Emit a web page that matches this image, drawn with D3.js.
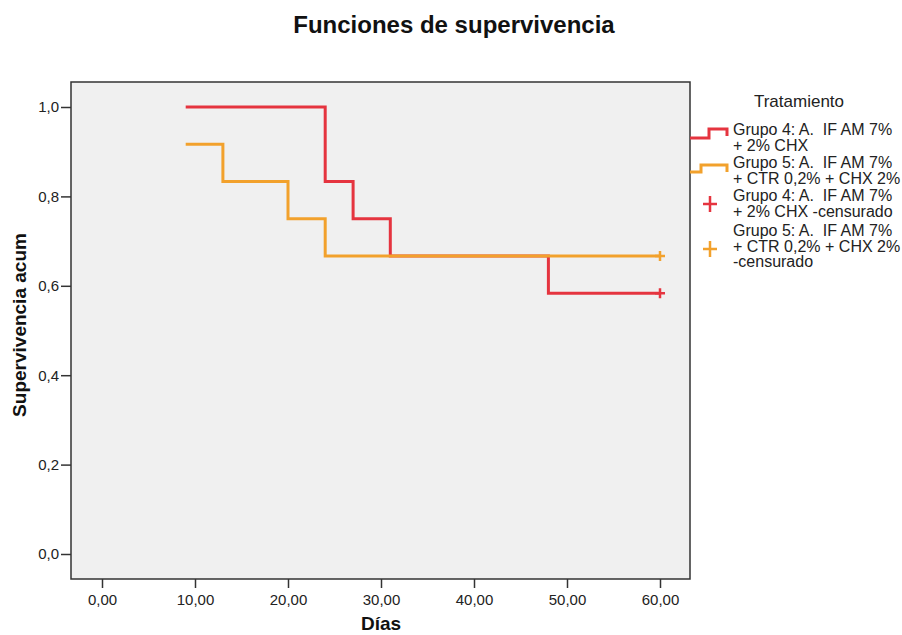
<!DOCTYPE html>
<html>
<head>
<meta charset="utf-8">
<script src="https://cdn.jsdelivr.net/npm/d3@7"></script>
<style>
  html, body { margin: 0; padding: 0; background: #ffffff; }
  svg { display: block; font-family: "Liberation Sans", Arial, sans-serif; }
</style>
</head>
<body>
<svg id="chart" width="902" height="635"></svg>
<script>
// ---- data ----
const title = "Funciones de supervivencia";
const xTitle = "Días";
const yTitle = "Supervivencia acum";
const legendTitle = "Tratamiento";

const groupNames = [
  ["Grupo 4: A.  IF AM 7%", "+ 2% CHX"],
  ["Grupo 5: A.  IF AM 7%", "+ CTR 0,2% + CHX 2%"]
];
const censorNames = [
  ["Grupo 4: A.  IF AM 7%", "+ 2% CHX -censurado"],
  ["Grupo 5: A.  IF AM 7%", "+ CTR 0,2% + CHX 2%", "-censurado"]
];

// step curves (time, cumulative survival)
const g4Times = [9, 24, 27, 31, 48, 60];
const g4Surv  = [1.0, 0.8333, 0.75, 0.6667, 0.5833, 0.5833];
const g5Times = [9, 13, 20, 24, 60];
const g5Surv  = [0.9167, 0.8333, 0.75, 0.6667, 0.6667];

// censored observations
const g4CensorTimes = [60];
const g4CensorSurv  = [0.5833];
const g5CensorTimes = [60];
const g5CensorSurv  = [0.6667];

const xTicks = [0, 10, 20, 30, 40, 50, 60];
const yTicks = [0, 0.2, 0.4, 0.6, 0.8, 1.0];

const colors = ["#e5343f", "#f2a12c"];

// ---- layout ----
const svg = d3.select("#chart");
const plot = { left: 71, top: 82, right: 690, bottom: 579 };

const x = d3.scaleLinear().domain([0, 60]).range([102, 660]);
const y = d3.scaleLinear().domain([0, 1]).range([554, 107]);

const loc = d3.formatLocale({ decimal: ",", thousands: ".", grouping: [3], currency: ["", ""] });
const fx = loc.format(".2f");
const fy = loc.format(".1f");

// title
svg.append("text")
  .attr("x", 454).attr("y", 33)
  .attr("text-anchor", "middle")
  .attr("font-size", 24).attr("font-weight", "bold")
  .attr("fill", "#111")
  .text(title);

// plot background
svg.append("rect")
  .attr("x", plot.left).attr("y", plot.top)
  .attr("width", plot.right - plot.left).attr("height", plot.bottom - plot.top)
  .attr("fill", "#f0f0f0").attr("stroke", "#333").attr("stroke-width", 1.5);

// axes
const xAxis = d3.axisBottom(x).tickValues(xTicks).tickFormat(fx).tickSize(9).tickPadding(6);
const gx = svg.append("g").attr("transform", `translate(0,${plot.bottom})`).call(xAxis);
gx.select(".domain").remove();
gx.selectAll(".tick line").attr("stroke", "#333").attr("stroke-width", 1.5);
gx.selectAll(".tick text").attr("font-size", 15).attr("fill", "#222")
  .attr("font-family", "Liberation Sans, Arial, sans-serif");

const yAxis = d3.axisLeft(y).tickValues(yTicks).tickFormat(fy).tickSize(10).tickPadding(2);
const gy = svg.append("g").attr("transform", `translate(${plot.left},0)`).call(yAxis);
gy.select(".domain").remove();
gy.selectAll(".tick line").attr("stroke", "#333").attr("stroke-width", 1.5);
gy.selectAll(".tick text").attr("font-size", 15).attr("fill", "#222")
  .attr("font-family", "Liberation Sans, Arial, sans-serif");

// axis titles
svg.append("text")
  .attr("x", x(30)).attr("y", 630)
  .attr("text-anchor", "middle")
  .attr("font-size", 19).attr("font-weight", "bold").attr("fill", "#111")
  .text(xTitle);

svg.append("text")
  .attr("transform", `translate(26,${325}) rotate(-90)`)
  .attr("text-anchor", "middle")
  .attr("font-size", 19).attr("font-weight", "bold").attr("fill", "#111")
  .text(yTitle);

// curves
const line = d3.line()
  .x(d => x(d[0])).y(d => y(d[1]))
  .curve(d3.curveStepAfter);

const curves = [
  d3.zip(g4Times, g4Surv),
  d3.zip(g5Times, g5Surv)
];
const censors = [
  d3.zip(g4CensorTimes, g4CensorSurv),
  d3.zip(g5CensorTimes, g5CensorSurv)
];

curves.forEach((c, i) => {
  svg.append("path")
    .datum(c)
    .attr("d", line)
    .attr("fill", "none")
    .attr("stroke", colors[i])
    .attr("stroke-width", 3)
    .attr("stroke-linejoin", "miter")
    .attr("stroke-linecap", "butt");
});

censors.forEach((c, i) => {
  const g = svg.append("g");
  c.forEach(d => {
    const cx = x(d[0]), cy = y(d[1]);
    g.append("path")
      .attr("d", `M${cx - 5},${cy}H${cx + 5}M${cx},${cy - 5}V${cy + 5}`)
      .attr("stroke", colors[i]).attr("stroke-width", 2.5).attr("fill", "none");
  });
});

// legend
const lg = svg.append("g");
lg.append("text")
  .attr("x", 799).attr("y", 107)
  .attr("text-anchor", "middle")
  .attr("font-size", 17).attr("fill", "#222")
  .text(legendTitle);

const groupBaselines = [135, 168, 201, 236];
const lineH = 15.5;
const textX = 733;
const legendItems = [
  { lines: groupNames[0], color: colors[0], kind: "step", low: 138, high: 129, rise: 709 },
  { lines: groupNames[1], color: colors[1], kind: "step", low: 172, high: 165, rise: 701 },
  { lines: censorNames[0], color: colors[0], kind: "cross", cy: 204 },
  { lines: censorNames[1], color: colors[1], kind: "cross", cy: 249 }
];

legendItems.forEach((it, i) => {
  it.lines.forEach((t, j) => {
    lg.append("text")
      .attr("x", textX).attr("y", groupBaselines[i] + j * lineH)
      .attr("font-size", 16).attr("fill", "#222")
      .style("white-space", "pre")
      .text(t);
  });
  if (it.kind === "step") {
    lg.append("path")
      .attr("d", `M690,${it.low}H${it.rise}V${it.high}H727V${it.high + 7}`)
      .attr("fill", "none").attr("stroke", it.color).attr("stroke-width", 3);
  } else {
    const cx = 710, cy = it.cy;
    lg.append("path")
      .attr("d", `M${cx - 7},${cy}H${cx + 7}M${cx},${cy - 8}V${cy + 8}`)
      .attr("fill", "none").attr("stroke", it.color).attr("stroke-width", 2.5);
  }
});
</script>
</body>
</html>
